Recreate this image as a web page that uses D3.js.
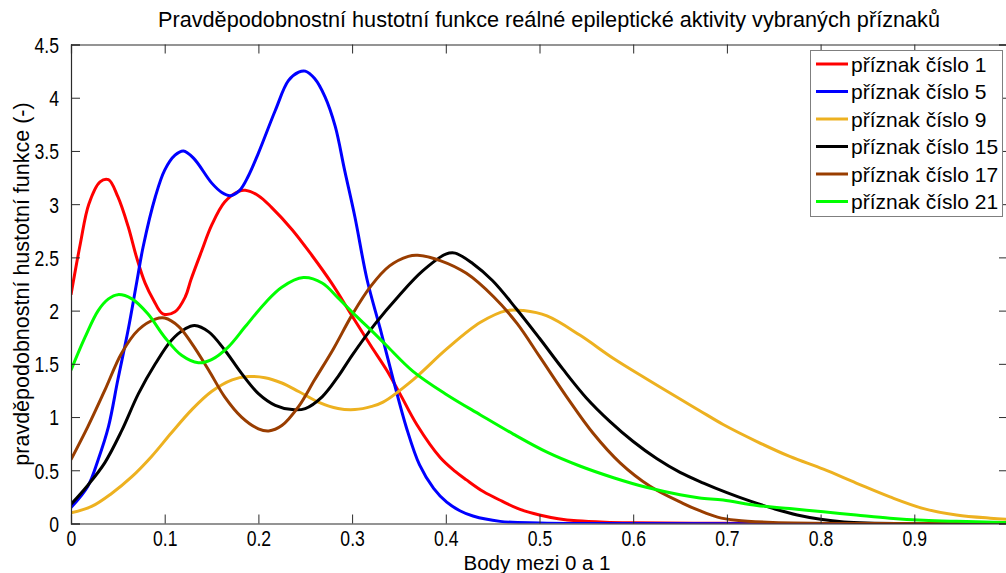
<!DOCTYPE html>
<html>
<head>
<meta charset="utf-8">
<script src="https://cdn.jsdelivr.net/npm/d3@7"></script>
<style>
  html, body { margin: 0; padding: 0; background: #fff; }
  svg { display: block; }
  text { font-family: "Liberation Sans", Arial, Helvetica, sans-serif; fill: #000; }
</style>
</head>
<body>
<svg id="chart" width="1006" height="573"></svg>
<script>
// Estimated probability density curves, as [x, density] pairs
const priznak1 = [[0,2.15],[0.010,2.63],[0.019,3.0],[0.031,3.21],[0.040,3.23],[0.050,3.07],[0.061,2.79],[0.070,2.50],[0.079,2.26],[0.088,2.10],[0.098,1.97],[0.111,1.99],[0.122,2.13],[0.128,2.29],[0.139,2.55],[0.150,2.80],[0.164,3.02],[0.179,3.12],[0.186,3.13],[0.200,3.08],[0.214,2.97],[0.236,2.76],[0.257,2.52],[0.278,2.26],[0.300,1.95],[0.320,1.67],[0.337,1.44],[0.351,1.22],[0.369,0.93],[0.394,0.62],[0.410,0.49],[0.422,0.41],[0.440,0.30],[0.460,0.21],[0.480,0.13],[0.500,0.08],[0.520,0.045],[0.540,0.025],[0.570,0.012],[0.600,0.007],[0.700,0.002],[0.800,0],[1,0]];
const priznak5 = [[0,0.15],[0.018,0.35],[0.029,0.60],[0.040,0.91],[0.050,1.35],[0.061,1.82],[0.070,2.26],[0.077,2.60],[0.090,3.07],[0.100,3.32],[0.111,3.46],[0.120,3.50],[0.131,3.43],[0.150,3.20],[0.161,3.11],[0.170,3.08],[0.180,3.13],[0.189,3.26],[0.200,3.48],[0.218,3.88],[0.232,4.16],[0.243,4.24],[0.250,4.25],[0.260,4.18],[0.271,4.01],[0.282,3.73],[0.292,3.32],[0.303,2.88],[0.316,2.29],[0.330,1.83],[0.344,1.35],[0.358,0.90],[0.372,0.55],[0.387,0.33],[0.401,0.20],[0.415,0.12],[0.429,0.07],[0.458,0.02],[0.5,0.005],[0.55,0],[1,0]];
const priznak9 = [[0,0.10],[0.022,0.16],[0.043,0.28],[0.065,0.44],[0.086,0.63],[0.107,0.85],[0.129,1.07],[0.150,1.24],[0.172,1.35],[0.189,1.38],[0.207,1.37],[0.225,1.32],[0.243,1.24],[0.264,1.14],[0.285,1.08],[0.303,1.07],[0.321,1.10],[0.333,1.14],[0.365,1.35],[0.401,1.64],[0.437,1.89],[0.465,2.00],[0.483,2.00],[0.508,1.95],[0.543,1.77],[0.579,1.55],[0.614,1.36],[0.650,1.17],[0.671,1.06],[0.696,0.93],[0.732,0.77],[0.767,0.63],[0.803,0.51],[0.838,0.38],[0.874,0.25],[0.910,0.14],[0.945,0.08],[0.981,0.05],[1,0.04]];
const priznak15 = [[0,0.18],[0.018,0.36],[0.036,0.57],[0.054,0.87],[0.072,1.22],[0.090,1.50],[0.107,1.72],[0.122,1.83],[0.132,1.86],[0.147,1.80],[0.164,1.63],[0.182,1.41],[0.200,1.22],[0.218,1.11],[0.236,1.07],[0.250,1.08],[0.268,1.19],[0.285,1.38],[0.300,1.58],[0.325,1.88],[0.350,2.14],[0.375,2.37],[0.400,2.53],[0.410,2.54],[0.429,2.44],[0.450,2.28],[0.475,2.02],[0.500,1.74],[0.525,1.45],[0.550,1.18],[0.575,0.96],[0.600,0.77],[0.625,0.61],[0.650,0.48],[0.675,0.38],[0.700,0.29],[0.725,0.21],[0.750,0.14],[0.775,0.08],[0.800,0.04],[0.825,0.015],[0.850,0.005],[0.9,0],[1,0]];
const priznak17 = [[0,0.60],[0.018,0.91],[0.036,1.25],[0.054,1.60],[0.072,1.82],[0.090,1.92],[0.100,1.93],[0.115,1.85],[0.129,1.69],[0.147,1.44],[0.164,1.19],[0.182,1.00],[0.200,0.89],[0.211,0.87],[0.225,0.92],[0.243,1.10],[0.260,1.35],[0.280,1.64],[0.300,1.96],[0.320,2.23],[0.340,2.42],[0.360,2.51],[0.370,2.52],[0.394,2.47],[0.422,2.35],[0.451,2.13],[0.476,1.88],[0.500,1.57],[0.529,1.19],[0.557,0.85],[0.586,0.57],[0.618,0.35],[0.653,0.19],[0.671,0.12],[0.690,0.06],[0.710,0.03],[0.749,0.01],[0.85,0],[1,0]];
const priznak21 = [[0,1.44],[0.015,1.75],[0.029,2.00],[0.040,2.11],[0.050,2.15],[0.065,2.11],[0.082,1.97],[0.100,1.75],[0.118,1.58],[0.136,1.51],[0.150,1.54],[0.168,1.66],[0.186,1.85],[0.207,2.07],[0.225,2.22],[0.248,2.31],[0.268,2.26],[0.285,2.12],[0.303,1.96],[0.321,1.81],[0.337,1.67],[0.365,1.43],[0.401,1.21],[0.437,1.02],[0.472,0.84],[0.508,0.67],[0.543,0.54],[0.579,0.43],[0.614,0.34],[0.650,0.27],[0.671,0.24],[0.696,0.22],[0.732,0.17],[0.767,0.14],[0.803,0.11],[0.838,0.08],[0.874,0.05],[0.910,0.03],[0.945,0.02],[0.995,0.01],[1,0.01]];

const seriesNames = ["příznak číslo 1", "příznak číslo 5", "příznak číslo 9", "příznak číslo 15", "příznak číslo 17", "příznak číslo 21"];
const seriesValues = [priznak1, priznak5, priznak9, priznak15, priznak17, priznak21];
const seriesColors = ["#ff0000", "#0000ff", "#edb120", "#000000", "#993d00", "#00ff00"];

const xTicks = [0, 0.1, 0.2, 0.3, 0.4, 0.5, 0.6, 0.7, 0.8, 0.9];
const xTickLabels = ["0", "0.1", "0.2", "0.3", "0.4", "0.5", "0.6", "0.7", "0.8", "0.9"];
const yTicks = [0, 0.5, 1, 1.5, 2, 2.5, 3, 3.5, 4, 4.5];
const yTickLabels = ["0", "0.5", "1", "1.5", "2", "2.5", "3", "3.5", "4", "4.5"];

const titleText = "Pravděpodobnostní hustotní funkce reálné epileptické aktivity vybraných příznaků";
const xLabelText = "Body mezi 0 a 1";
const yLabelText = "pravděpodobnostní hustotní funkce (-)";

// Plot frame
const plotLeft = 71, plotRight = 1008, plotTop = 44.5, plotBottom = 523.5;
const tickLen = 9;
const axisColor = "#2b2b2b";

const svg = d3.select("#chart");
const x = d3.scaleLinear().domain([0, 1]).range([plotLeft, plotRight]);
const y = d3.scaleLinear().domain([0, 4.5]).range([plotBottom, plotTop]);

// Narrow a text element horizontally, keeping its anchor
function squeeze(sel, factor) {
  sel.each(function () {
    const w = this.getComputedTextLength();
    if (w > 0) {
      d3.select(this).attr("textLength", w * factor).attr("lengthAdjust", "spacingAndGlyphs");
    }
  });
}

// Curves
const line = d3.line()
  .x(d => x(d[0]))
  .y(d => y(d[1]))
  .curve(d3.curveCatmullRom.alpha(0.5));

svg.append("clipPath").attr("id", "plotclip")
  .append("rect")
  .attr("x", plotLeft).attr("y", plotTop)
  .attr("width", plotRight - plotLeft).attr("height", plotBottom - plotTop);

svg.append("g").attr("clip-path", "url(#plotclip)")
  .selectAll("path")
  .data(seriesValues)
  .join("path")
  .attr("d", line)
  .attr("fill", "none")
  .attr("stroke", (d, i) => seriesColors[i])
  .attr("stroke-width", 3)
  .attr("stroke-linejoin", "round");

// Axes (inward ticks on all four sides)
const fmtX = d => xTickLabels[xTicks.indexOf(d)];
const fmtY = d => yTickLabels[yTicks.indexOf(d)];

const gBottom = svg.append("g").attr("transform", `translate(0,${plotBottom})`)
  .call(d3.axisBottom(x).tickValues(xTicks).tickSize(-tickLen).tickFormat(fmtX));
const gTop = svg.append("g").attr("transform", `translate(0,${plotTop})`)
  .call(d3.axisTop(x).tickValues(xTicks.concat([1])).tickSize(-tickLen).tickFormat(""));
const gLeft = svg.append("g").attr("transform", `translate(${plotLeft},0)`)
  .call(d3.axisLeft(y).tickValues(yTicks).tickSize(-tickLen).tickFormat(fmtY));
const gRight = svg.append("g").attr("transform", `translate(${plotRight},0)`)
  .call(d3.axisRight(y).tickValues(yTicks).tickSize(-tickLen).tickFormat(""));

[gBottom, gTop, gLeft, gRight].forEach(g => {
  g.select(".domain").attr("stroke", axisColor).attr("stroke-width", 1.2);
  g.selectAll(".tick line").attr("stroke", axisColor).attr("stroke-width", 1);
  g.selectAll(".tick text")
    .attr("fill", "#000")
    .style("font-size", "22px")
    .style("font-family", "'Liberation Sans', Arial, sans-serif");
});
gBottom.selectAll(".tick text").attr("y", 7).attr("dy", "0.71em");
gLeft.selectAll(".tick text").attr("x", -12).attr("dy", "0.36em");
squeeze(gBottom.selectAll(".tick text"), 0.8);
squeeze(gLeft.selectAll(".tick text"), 0.8);

// Title and axis labels
svg.append("text")
  .attr("x", 549).attr("y", 27)
  .attr("text-anchor", "middle")
  .attr("textLength", 782).attr("lengthAdjust", "spacingAndGlyphs")
  .style("font-size", "21.5px")
  .text(titleText);

svg.append("text")
  .attr("x", 537).attr("y", 570)
  .attr("text-anchor", "middle")
  .style("font-size", "20.5px")
  .text(xLabelText);

svg.append("text")
  .attr("transform", "translate(29,284) rotate(-90)")
  .attr("text-anchor", "middle")
  .style("font-size", "21.5px")
  .text(yLabelText);

// Legend
const legend = svg.append("g");
legend.append("rect")
  .attr("x", 810.5).attr("y", 50.5)
  .attr("width", 192).attr("height", 166)
  .attr("fill", "#fff")
  .attr("stroke", "#7f7f7f")
  .attr("stroke-width", 1);

const rowH = 27.5, row0 = 64;
const items = legend.selectAll("g.item")
  .data(seriesNames)
  .join("g")
  .attr("class", "item")
  .attr("transform", (d, i) => `translate(0,${row0 + i * rowH})`);
items.append("line")
  .attr("x1", 816).attr("x2", 848)
  .attr("y1", 0).attr("y2", 0)
  .attr("stroke", (d, i) => seriesColors[i])
  .attr("stroke-width", 3);
items.append("text")
  .attr("x", 851).attr("y", 0).attr("dy", "0.36em")
  .style("font-size", "21px")
  .text(d => d);
</script>
</body>
</html>
